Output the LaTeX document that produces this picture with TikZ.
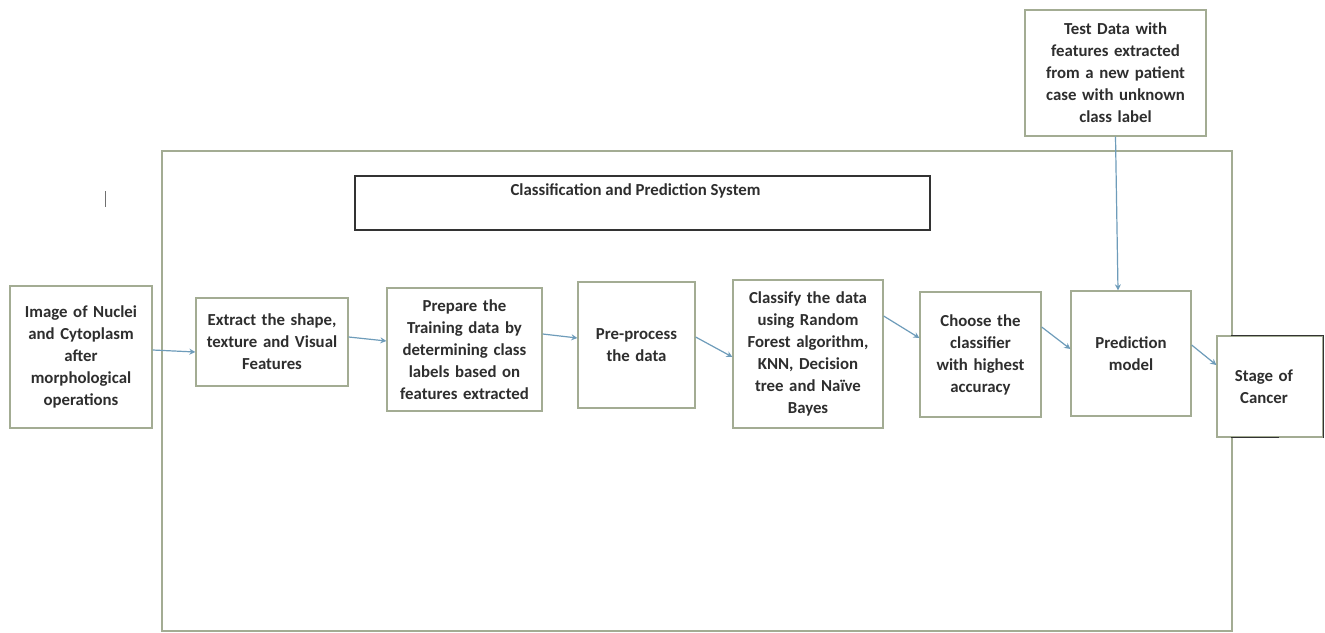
\documentclass[tikz,border=0pt]{standalone}
\usepackage{fontspec}
\setmainfont{Carlito}
\usetikzlibrary{arrows.meta}
\definecolor{boxgreen}{HTML}{A3AC93}
\definecolor{arrowblue}{HTML}{6E9CBA}
\definecolor{darkline}{HTML}{333333}
\tikzset{
  boxfont/.style={font=\fontsize{16.8}{22}\selectfont\bfseries, text=black!82},
  flowbox/.style={draw=boxgreen, line width=1.3pt, fill=white, align=center,
    boxfont, inner sep=2pt},
  flowarrow/.style={draw=arrowblue, line width=1.2pt, -{Stealth[length=6pt,width=6pt]}},
}
\begin{document}
\begin{tikzpicture}[x=1pt,y=-1pt]
\useasboundingbox (0,0) rectangle (1325,632);
\fill[white] (0,0) rectangle (1325,632);
% big system box
\node[draw=boxgreen, line width=1.3pt, minimum width=1070pt, minimum height=480pt, inner sep=0pt] (sys) at (697,391) {};
% title box
\node[draw=darkline, line width=1.3pt, fill=white, minimum width=575pt, minimum height=54pt, inner sep=0pt,
  label={[anchor=north, yshift=-5pt, xshift=-7pt, boxfont]north:Classification and Prediction System}] (title) at (642.5,203) {};
% small mark
\coordinate (m1) at (105,191);
\coordinate (m2) at (105,207);
\draw[darkline!70, line width=1pt] (m1) -- (m2);
% boxes
\node[flowbox, minimum width=142pt, minimum height=142pt, text width=136pt] (img) at (81,357) {Image of Nuclei\\and Cytoplasm\\after\\morphological\\operations};
\node[flowbox, minimum width=152pt, minimum height=88pt, text width=146pt] (ext) at (272,342) {Extract the shape,\\texture and Visual\\Features};
\node[flowbox, minimum width=155pt, minimum height=123pt, text width=149pt] (prep) at (464.5,349.5) {Prepare the\\Training data by\\determining class\\labels based on\\features extracted};
\node[flowbox, minimum width=117pt, minimum height=126pt, text width=111pt] (pre) at (636.5,345) {Pre-process\\the data};
\node[flowbox, minimum width=150pt, minimum height=148pt, text width=144pt] (cls) at (808,354) {Classify the data\\using Random\\Forest algorithm,\\KNN, Decision\\tree and Naïve\\Bayes};
\node[flowbox, minimum width=121pt, minimum height=125pt, text width=115pt] (cho) at (980.5,354.5) {Choose the\\classifier\\with highest\\accuracy\\[14pt]};
\node[flowbox, minimum width=120pt, minimum height=125pt, text width=114pt] (pred) at (1131,353.5) {Prediction\\model\\[16pt]};
\node[flowbox, minimum width=106pt, minimum height=101pt, text width=100pt] (stage) at (1270,386.5) {\hspace*{-12pt}Stage of\\\hspace*{-12pt}Cancer};
\node[flowbox, minimum width=181pt, minimum height=126pt, text width=175pt] (test) at (1115.5,73) {Test Data with\\features extracted\\from a new patient\\case with unknown\\class label};
% dark edges on stage box
\draw[darkline, line width=1.3pt] ([xshift=15pt]stage.north west) -- (stage.north east) -- (stage.south east);
\draw[darkline, line width=1.3pt] ([xshift=15pt]stage.south west) -- ([xshift=63pt]stage.south west);
% arrows
\draw[flowarrow] ([yshift=7pt]img.east) -- ([yshift=-10pt]ext.west);
\draw[flowarrow] ([yshift=5pt]ext.east) -- ([yshift=8.5pt]prep.west);
\draw[flowarrow] ([yshift=15.5pt]prep.east) -- ([yshift=7pt]pre.west);
\draw[flowarrow] ([yshift=8pt]pre.east) -- ([yshift=-3pt]cls.west);
\draw[flowarrow] ([yshift=38pt]cls.east) -- ([yshift=16.5pt]cho.west);
\draw[flowarrow] ([yshift=27.5pt]cho.east) -- ([yshift=4.5pt]pred.west);
\draw[flowarrow] ([yshift=8.5pt]pred.east) -- ([yshift=21.5pt]stage.west);
\draw[flowarrow] (test.south) -- ([xshift=-13pt]pred.north);
\end{tikzpicture}
\end{document}
